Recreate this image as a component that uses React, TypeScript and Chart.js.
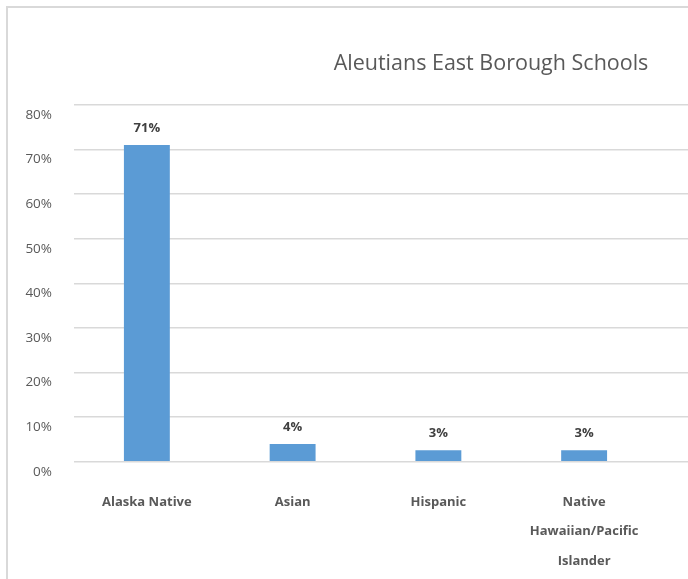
import React, { useEffect, useRef } from "react";
import { Chart, registerables } from "chart.js";

Chart.register(...registerables);

const chartTitle = "Aleutians East Borough Schools";
const categories: (string | string[])[] = [
  "Alaska Native",
  "Asian",
  "Hispanic",
  ["Native", "Hawaiian/Pacific", "Islander"],
];
const shares = [71, 4, 2.6, 2.6];
const axisMin = 0;
const axisMax = 80;
const axisStep = 10;

const CW = 966;
const CH = 600;

const valueLabels = {
  id: "valueLabels",
  afterDatasetsDraw(chart: any) {
    const ctx = chart.ctx;
    const meta = chart.getDatasetMeta(0);
    ctx.save();
    ctx.font = "bold 13px 'Open Sans'";
    ctx.fillStyle = "#404040";
    ctx.textAlign = "center";
    ctx.textBaseline = "middle";
    meta.data.forEach((bar: any, i: number) => {
      const v = chart.data.datasets[0].data[i] as number;
      ctx.fillText(Math.round(v) + "%", bar.x, bar.y - 17);
    });
    ctx.restore();
  },
};

export default function App() {
  const ref = useRef<HTMLCanvasElement>(null);
  useEffect(() => {
    if (!ref.current) return;
    const chart = new Chart(ref.current, {
      type: "bar",
      data: {
        labels: categories,
        datasets: [
          {
            data: shares,
            backgroundColor: "#5b9bd5",
            borderWidth: 0,
            barPercentage: 0.315,
            categoryPercentage: 1,
          },
        ],
      },
      options: {
        responsive: false,
        animation: false,
        layout: { padding: { left: 0, right: 0, top: 0, bottom: 14.5 } },
        plugins: {
          legend: { display: false },
          tooltip: { enabled: false },
          title: {
            display: true,
            text: chartTitle,
            color: "#595959",
            font: { family: "'Open Sans'", size: 21.5, weight: "normal", lineHeight: 1.2 },
            padding: { top: 43, bottom: 28 },
          },
        },
        scales: {
          x: {
            type: "category",
            offset: true,
            grid: { display: false },
            border: { display: false },
            ticks: {
              padding: 18,
              color: "#595959",
              maxRotation: 0,
              autoSkip: false,
              font: { family: "'Open Sans'", size: 13, weight: "bold", lineHeight: 2.25 },
            },
          },
          y: {
            min: axisMin,
            max: axisMax,
            position: "left",
            afterFit: (s: any) => {
              s.width = 66;
            },
            border: { display: false },
            grid: { color: "#d9d9d9", lineWidth: 1.5, drawTicks: false },
            ticks: {
              stepSize: axisStep,
              padding: 22,
              labelOffset: 10,
              color: "#595959",
              font: { family: "'Open Sans'", size: 13.5 },
              callback: (v: any) => v + "%",
            },
          },
          y2: {
            min: axisMin,
            max: axisMax,
            position: "right",
            border: { display: false },
            grid: {
              color: "#d9d9d9",
              lineWidth: 1.5,
              drawOnChartArea: false,
              drawTicks: true,
              tickLength: 317,
            },
            ticks: { stepSize: axisStep, display: false },
          },
        },
      },
      plugins: [valueLabels],
    });
    return () => chart.destroy();
  }, []);

  return (
    <div
      style={{
        position: "fixed",
        left: 0,
        top: 0,
        width: 688,
        height: 579,
        overflow: "hidden",
        background: "#ffffff",
      }}
    >
      <div
        style={{
          position: "absolute",
          left: 6,
          top: 6,
          border: "2px solid #d9d9d9",
          width: CW,
          height: CH,
          background: "#ffffff",
        }}
      >
        <canvas ref={ref} width={CW} height={CH} style={{ display: "block", width: CW, height: CH }} />
      </div>
    </div>
  );
}
